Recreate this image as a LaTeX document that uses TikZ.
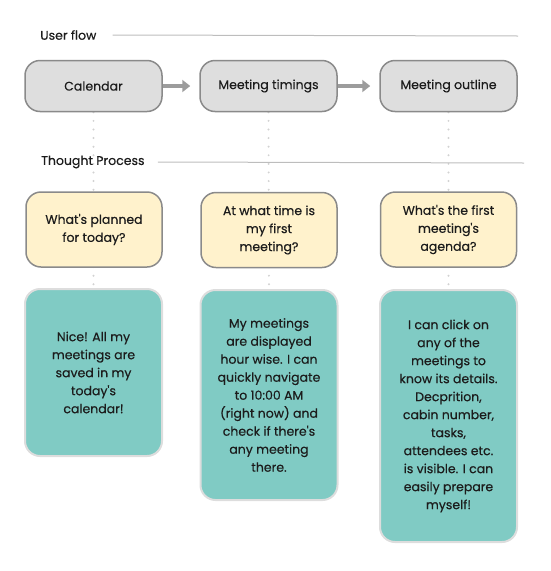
\documentclass[tikz,border=0pt]{standalone}
\usepackage{fontspec}
\setmainfont{Poppins}[FakeBold=0.4,Ligatures=TeXOff]
\usepackage{tikz}
\usetikzlibrary{arrows.meta,backgrounds}
\definecolor{stepfill}{HTML}{DEDEDE}
\definecolor{stepedge}{HTML}{8A8A8A}
\definecolor{askfill}{HTML}{FFF2CC}
\definecolor{ansfill}{HTML}{80CBC4}
\definecolor{ansedge}{HTML}{DDDDDD}
\definecolor{guide}{HTML}{BDBDBD}
\definecolor{dots}{HTML}{D2D2D2}
\definecolor{ink}{HTML}{1C1C1C}

\begin{document}
\begin{tikzpicture}[x=1pt,y=-1pt,inner sep=0pt,text=ink,
        font=\fontsize{12.5}{18}\selectfont,
        stepbox/.style={draw=stepedge,line width=1.5pt,fill=stepfill,rounded corners=15pt,
                minimum width=137pt,minimum height=51pt},
        askbox/.style={draw=stepedge,line width=1.5pt,fill=askfill,rounded corners=15pt,
                minimum width=136pt,minimum height=75pt,align=center},
        ansbox/.style={draw=ansedge,line width=2pt,fill=ansfill,rounded corners=15pt,
                minimum width=137pt,align=center},
        section/.style={anchor=west,font=\fontsize{12.5}{15}\selectfont},
        secline/.style={draw=guide,line width=1pt},
        flow/.style={draw=stepedge!85,line width=4pt,-{Triangle[length=8pt,width=12pt]},shorten >=9pt},
        trail/.style={draw=dots,line width=2.2pt,line cap=round,dash pattern=on 0pt off 8.6pt}]
\useasboundingbox (0,0) rectangle (550,571);
% section headings
\node[section](uf) at (40,35) {User flow};
\coordinate (ufend) at (518,36);
\draw[secline] ([xshift=16pt]uf.east) -- (ufend);
\node[section](tp) at (41,162) {Thought Process};
\coordinate (tpend) at (524,163);
\draw[secline] ([xshift=13pt]tp.east) -- (tpend);
% user flow steps
\node[stepbox](cal) at (93.5,86) {Calendar};
\node[stepbox](tim) at (268.5,86) {Meeting timings};
\node[stepbox](out) at (448.5,86) {Meeting outline};
\draw[flow] (cal.east) -- (tim.west);
\draw[flow] (tim.east) -- (out.west);
% thoughts
\node[askbox](ask1) at (94,229.5) {What's planned\\for today?};
\node[askbox](ask2) at (269,230) {At what time is\\my first\\meeting?};
\node[askbox](ask3) at (448.5,229.5) {What's the first\\meeting's\\agenda?};
\node[ansbox,minimum height=167pt](ans1) at (93.5,372.5) {Nice! All my\\meetings are\\saved in my\\today's\\calendar!};
\node[ansbox,minimum height=210pt](ans2) at (269,395) {My meetings\\are displayed\\hour wise. I can\\quickly navigate\\to 10:00 AM\\(right now) and\\check if there's\\any meeting\\there.};
\node[ansbox,minimum height=252pt](ans3) at (448.5,416) {I can click on\\any of the\\meetings to\\know its details.\\Decprition,\\cabin number,\\tasks,\\attendees etc.\\is visible. I can\\easily prepare\\myself!};
% dotted trails behind the boxes
\begin{scope}[on background layer]
\draw[trail] (cal.south) -- (ans1.north);
\draw[trail] (tim.south) -- (ans2.north);
\draw[trail] (out.south) -- (ans3.north);
\end{scope}
\end{tikzpicture}
\end{document}
